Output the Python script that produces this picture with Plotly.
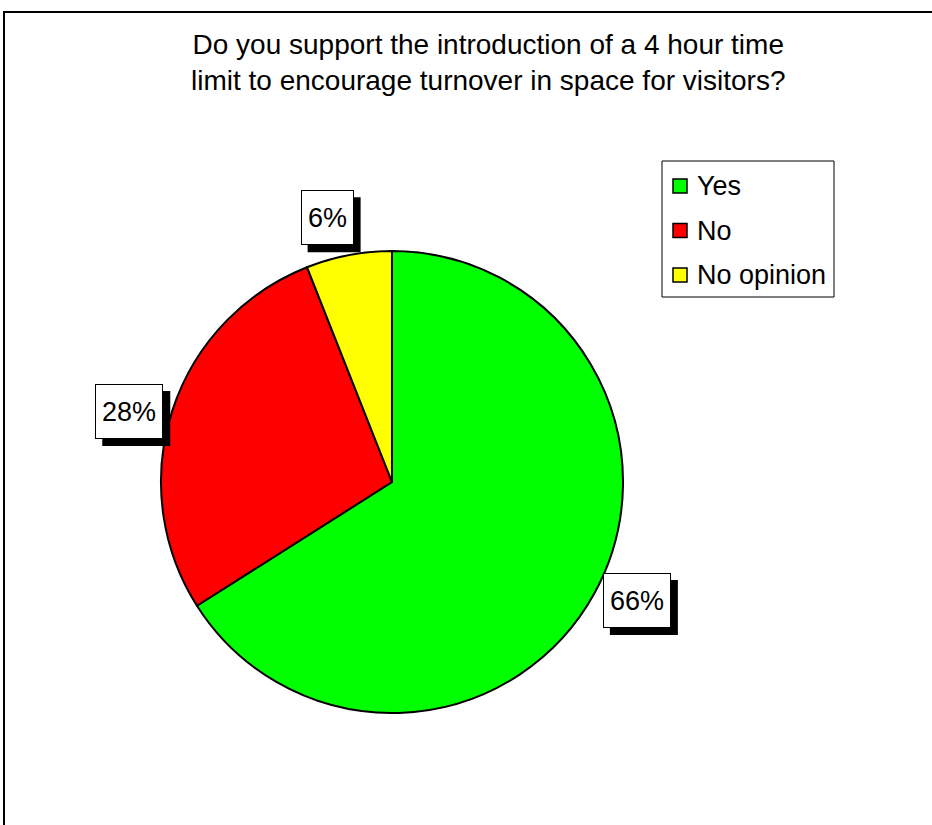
import math
import plotly.graph_objects as go

# Survey responses (percent of respondents)
categories = ["Yes", "No", "No opinion"]
shares = [66, 28, 6]
colors = ["#00FF00", "#FF0000", "#FFFF00"]

title_lines = [
    "Do you support the introduction of a 4 hour time",
    "limit to encourage turnover in space for visitors?",
]

W, H = 932, 825
FONT = "Liberation Sans, Arial, sans-serif"
LABEL_SIZE = 27

# pie placement in pixels (converted to paper fractions below)
cx, cy, R = 392, 482, 231
label_dist = 272          # distance of callout centres from the pie centre
label_turn = -3.0         # small counter-clockwise nudge of the callouts, degrees
pad, bw = 5, 1            # callout padding and border width
box_text_h = 43           # callout inner height
shadow = 7                # drop-shadow offset, px

# Arial advance widths (em) for the callout characters
ADV = {**{d: 0.556 for d in "0123456789"}, "%": 0.889}


def px(x):
    return x / W


def py(y):
    return 1 - y / H


fig = go.Figure()
fig.add_trace(go.Pie(
    labels=categories,
    values=shares,
    sort=False,
    direction="clockwise",
    rotation=0,
    marker=dict(colors=colors, line=dict(color="black", width=2)),
    textinfo="none",
    hoverinfo="label+percent",
    showlegend=False,
    domain=dict(x=[px(cx - R), px(cx + R)], y=[py(cy + R), py(cy - R)]),
))

annotations = []
shapes = []

# outer chart frame
shapes.append(dict(type="rect", xref="paper", yref="paper",
                   x0=px(4), x1=1.05, y0=-0.05, y1=py(12),
                   line=dict(color="black", width=2), fillcolor="rgba(0,0,0,0)"))

# title
annotations.append(dict(x=px(488), y=py(62), xref="paper", yref="paper",
                        text="<br>".join(title_lines), showarrow=False,
                        xanchor="center", yanchor="middle", align="center",
                        font=dict(family=FONT, size=28, color="black")))

# percentage callouts placed along each slice's mid-angle
total = sum(shares)
cum = 0
for v in shares:
    mid = (cum + v / 2) / total * 2 * math.pi + math.radians(label_turn)
    cum += v
    lx = cx + label_dist * math.sin(mid)
    ly = cy - label_dist * math.cos(mid)
    txt = f"{round(v / total * 100)}%"
    tw = round(sum(ADV[ch] for ch in txt) * LABEL_SIZE) + 2
    ow = tw + 2 * (pad + bw)
    oh = box_text_h + 2 * (pad + bw)
    # drop shadow behind the callout box
    shapes.append(dict(type="rect", xref="paper", yref="paper",
                       xsizemode="pixel", ysizemode="pixel",
                       xanchor=px(lx), yanchor=py(ly),
                       x0=-ow / 2 + shadow, x1=ow / 2 + shadow,
                       y0=-oh / 2 - shadow, y1=oh / 2 - shadow,
                       line=dict(width=0), fillcolor="black", layer="above"))
    annotations.append(dict(x=px(lx), y=py(ly), xref="paper", yref="paper",
                            text=txt, showarrow=False, xanchor="center", yanchor="middle",
                            font=dict(family=FONT, size=LABEL_SIZE, color="black"),
                            width=tw, height=box_text_h,
                            bgcolor="white", bordercolor="black",
                            borderwidth=bw, borderpad=pad))

# legend box
shapes.append(dict(type="rect", xref="paper", yref="paper",
                   x0=px(662), x1=px(834), y0=py(297), y1=py(161),
                   line=dict(color="black", width=1), fillcolor="white"))
for i, (name, c) in enumerate(zip(categories, colors)):
    yc = 186 + i * 44.5
    shapes.append(dict(type="rect", xref="paper", yref="paper",
                       x0=px(673), x1=px(687), y0=py(yc + 7), y1=py(yc - 7),
                       line=dict(color="black", width=1.5), fillcolor=c))
    annotations.append(dict(x=px(695), y=py(yc), xref="paper", yref="paper",
                            text=name, showarrow=False, xanchor="left", yanchor="middle",
                            font=dict(family=FONT, size=27, color="black")))

fig.update_layout(
    width=W, height=H,
    margin=dict(l=0, r=0, t=0, b=0),
    paper_bgcolor="white",
    plot_bgcolor="white",
    shapes=shapes,
    annotations=annotations,
)

fig.write_html("out.html")
